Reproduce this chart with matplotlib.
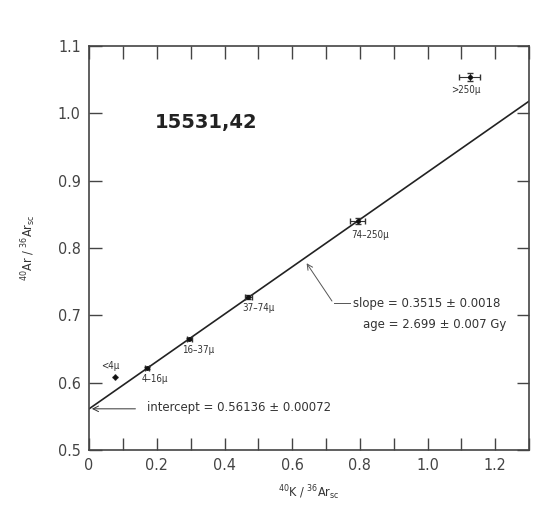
import numpy as np
import matplotlib.pyplot as plt
from matplotlib.ticker import MultipleLocator, FuncFormatter

# grain-size fractions of 15531,42
labels = ['<4\u03bc', '4\u201316\u03bc', '16\u201337\u03bc', '37\u201374\u03bc', '74\u2013250\u03bc', '>250\u03bc']
k_ar = [0.077, 0.172, 0.296, 0.470, 0.793, 1.124]
ar_ar = [0.608, 0.622, 0.665, 0.727, 0.840, 1.054]
k_err = [0.0, 0.006, 0.008, 0.010, 0.022, 0.031]
ar_err = [0.0, 0.002, 0.002, 0.003, 0.004, 0.006]

intercept = 0.56136
slope = 0.3515

plt.rcParams['font.family'] = ['DejaVu Sans']
plt.rcParams['font.stretch'] = 'condensed'

fig = plt.figure(figsize=(5.57, 5.18), dpi=100)
ax = fig.add_axes([0.160, 0.131, 0.790, 0.780])

# fitted isochron
xs = np.array([0.0, 1.3])
ax.plot(xs, intercept + slope * xs, color='#222222', lw=1.2)

ax.errorbar(k_ar, ar_ar, xerr=k_err, yerr=ar_err, fmt='o', ms=2.5,
            color='#111111', ecolor='#333333', elinewidth=0.8, capsize=2)

offsets = [(-0.015, 0.017), (0.023, -0.017), (0.027, -0.016), (0.030, -0.016),
           (0.037, -0.021), (-0.012, -0.019)]
for lab, x, y, (dx, dy) in zip(labels, k_ar, ar_ar, offsets):
    ax.text(x + dx, y + dy, lab, fontsize=7, color='#333333', ha='center', va='center')

ax.text(0.346, 0.986, '15531,42', fontsize=14, fontweight='bold', fontstretch='normal',
        color='#222222', ha='center', va='center')

# intercept annotation
ax.annotate('', xy=(0.0, intercept), xytext=(0.145, intercept),
            arrowprops=dict(arrowstyle='->', color='#333333', lw=0.7))
ax.text(0.17, 0.564, 'intercept = %.5f \u00b1 0.00072' % intercept,
        fontsize=9.4, color='#333333', ha='left', va='center')

# slope annotation
ax.plot([0.722, 0.77], [0.718, 0.718], color='#555555', lw=0.7)
ax.annotate('', xy=(0.638, 0.781), xytext=(0.722, 0.718),
            arrowprops=dict(arrowstyle='->', color='#555555', lw=0.7))
ax.text(0.78, 0.718, 'slope = %.4f \u00b1 0.0018' % slope,
        fontsize=9.4, color='#333333', ha='left', va='center')
ax.text(0.81, 0.686, 'age = 2.699 \u00b1 0.007 Gy',
        fontsize=9.4, color='#333333', ha='left', va='center')

ax.set_xlim(0, 1.3)
ax.set_ylim(0.5, 1.1)
ax.xaxis.set_major_locator(MultipleLocator(0.2))
ax.xaxis.set_minor_locator(MultipleLocator(0.1))
ax.yaxis.set_major_locator(MultipleLocator(0.1))
ax.xaxis.set_major_formatter(FuncFormatter(lambda v, p: '0' if abs(v) < 1e-9 else '%.1f' % v))
ax.yaxis.set_major_formatter(FuncFormatter(lambda v, p: '%.1f' % v))
ax.tick_params(which='both', direction='in', length=9, width=1.0, color='#444444',
               top=True, right=True, labelsize=11.5, labelcolor='#444444', pad=6)
for s in ax.spines.values():
    s.set_color('#444444')
    s.set_linewidth(1.2)

ax.set_xlabel(r'$^{40}$K / $^{36}$Ar$_{\rm sc}$', fontsize=9, color='#333333', labelpad=7)
ax.set_ylabel(r'$^{40}$Ar / $^{36}$Ar$_{\rm sc}$', fontsize=9, color='#333333', labelpad=14)

fig.savefig('out.png', dpi=100)
